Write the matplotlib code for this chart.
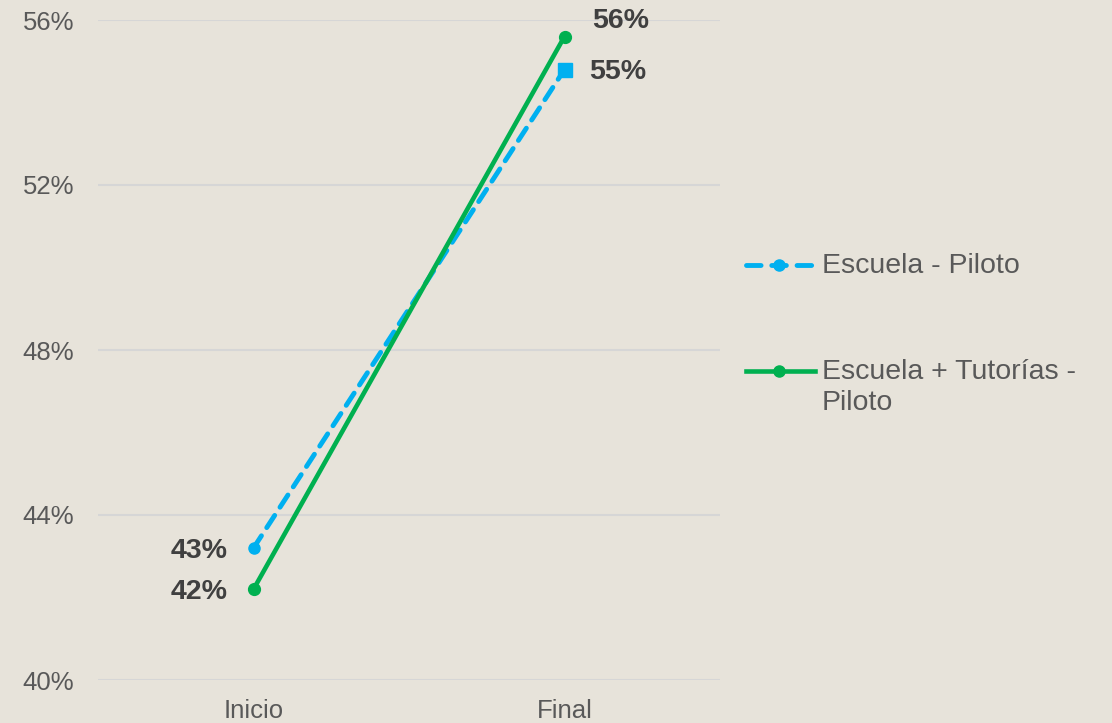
import numpy as np
import matplotlib.pyplot as plt
from matplotlib.lines import Line2D
from matplotlib.ticker import FuncFormatter

plt.rcParams['font.family'] = ['Liberation Sans', 'DejaVu Sans']

# datos
momentos = ['Inicio', 'Final']
escuela_piloto = [43.2, 54.8]
escuela_tutorias = [42.2, 55.6]
etiquetas_piloto = ['43%', '55%']
etiquetas_tutorias = ['42%', '56%']
y_ticks = [40, 44, 48, 52, 56]

fondo = '#E7E3DA'
azul = '#00B0F0'
verde = '#00B050'
gris_texto = '#595959'
gris_etiqueta = '#404040'

fig = plt.figure(figsize=(11.12, 7.23), dpi=100, facecolor=fondo)
ax = fig.add_axes([98 / 1112, 43 / 723, 622 / 1112, 660 / 723])
ax.set_facecolor(fondo)

x = np.arange(len(momentos))

# linea azul discontinua, circulo al inicio y cuadrado al final
ax.plot(x, escuela_piloto, color=azul, lw=3.5, ls=(0, (3, 2)), dash_capstyle='round', zorder=3)
ax.plot(x[:1], escuela_piloto[:1], 'o', color=azul, ms=8, zorder=4)
ax.plot(x[1:], escuela_piloto[1:], 's', color=azul, ms=9.5, zorder=4)

ax.plot(x, escuela_tutorias, color=verde, lw=3.3, marker='o', ms=8.5, zorder=3)

ax.set_xlim(-0.5, 1.5)
ax.set_ylim(40, 56)
ax.set_yticks(y_ticks)
ax.yaxis.set_major_formatter(FuncFormatter(lambda v, p: f'{v:.0f}%'))
ax.set_xticks(x)
ax.set_xticklabels(momentos)
ax.tick_params(axis='both', length=0, labelsize=18.5, labelcolor=gris_texto)
ax.tick_params(axis='y', pad=17)
ax.tick_params(axis='x', pad=14)
ax.grid(axis='y', color='#D6D6D6', lw=1.5)
ax.set_axisbelow(True)
for s in ax.spines.values():
    s.set_visible(False)

kw = dict(textcoords='offset points', fontsize=20.5, fontweight='bold', color=gris_etiqueta, va='center')
ax.annotate(etiquetas_piloto[0], (x[0], escuela_piloto[0]), xytext=(-18.5, -2), ha='right', **kw)
ax.annotate(etiquetas_tutorias[0], (x[0], escuela_tutorias[0]), xytext=(-18.5, -2), ha='right', **kw)
ax.annotate(etiquetas_tutorias[1], (x[1], escuela_tutorias[1]), xytext=(20, 11), ha='left', **kw)
ax.annotate(etiquetas_piloto[1], (x[1], escuela_piloto[1]), xytext=(18, -2), ha='left', **kw)

# leyenda dibujada a mano
def fx(px):
    return px / 1112

def fy(py):
    return 1 - py / 723

fig.add_artist(Line2D([fx(746), fx(812)], [fy(265), fy(265)], color=azul, lw=3.5,
                      ls=(0, (3, 2.2)), dash_capstyle='round'))
fig.add_artist(Line2D([fx(779)], [fy(265)], color=azul, marker='o', ms=8, ls='none'))
fig.add_artist(Line2D([fx(746), fx(815)], [fy(371), fy(371)], color=verde, lw=3.3))
fig.add_artist(Line2D([fx(779)], [fy(371)], color=verde, marker='o', ms=8, ls='none'))

fig.text(fx(822), fy(266), 'Escuela - Piloto', fontsize=20.5, color=gris_texto, va='center')
fig.text(fx(822), fy(372), 'Escuela + Tutorías -', fontsize=20.5, color=gris_texto, va='center')
fig.text(fx(822), fy(403), 'Piloto', fontsize=20.5, color=gris_texto, va='center')

fig.savefig('out.png', dpi=100, facecolor=fondo)
